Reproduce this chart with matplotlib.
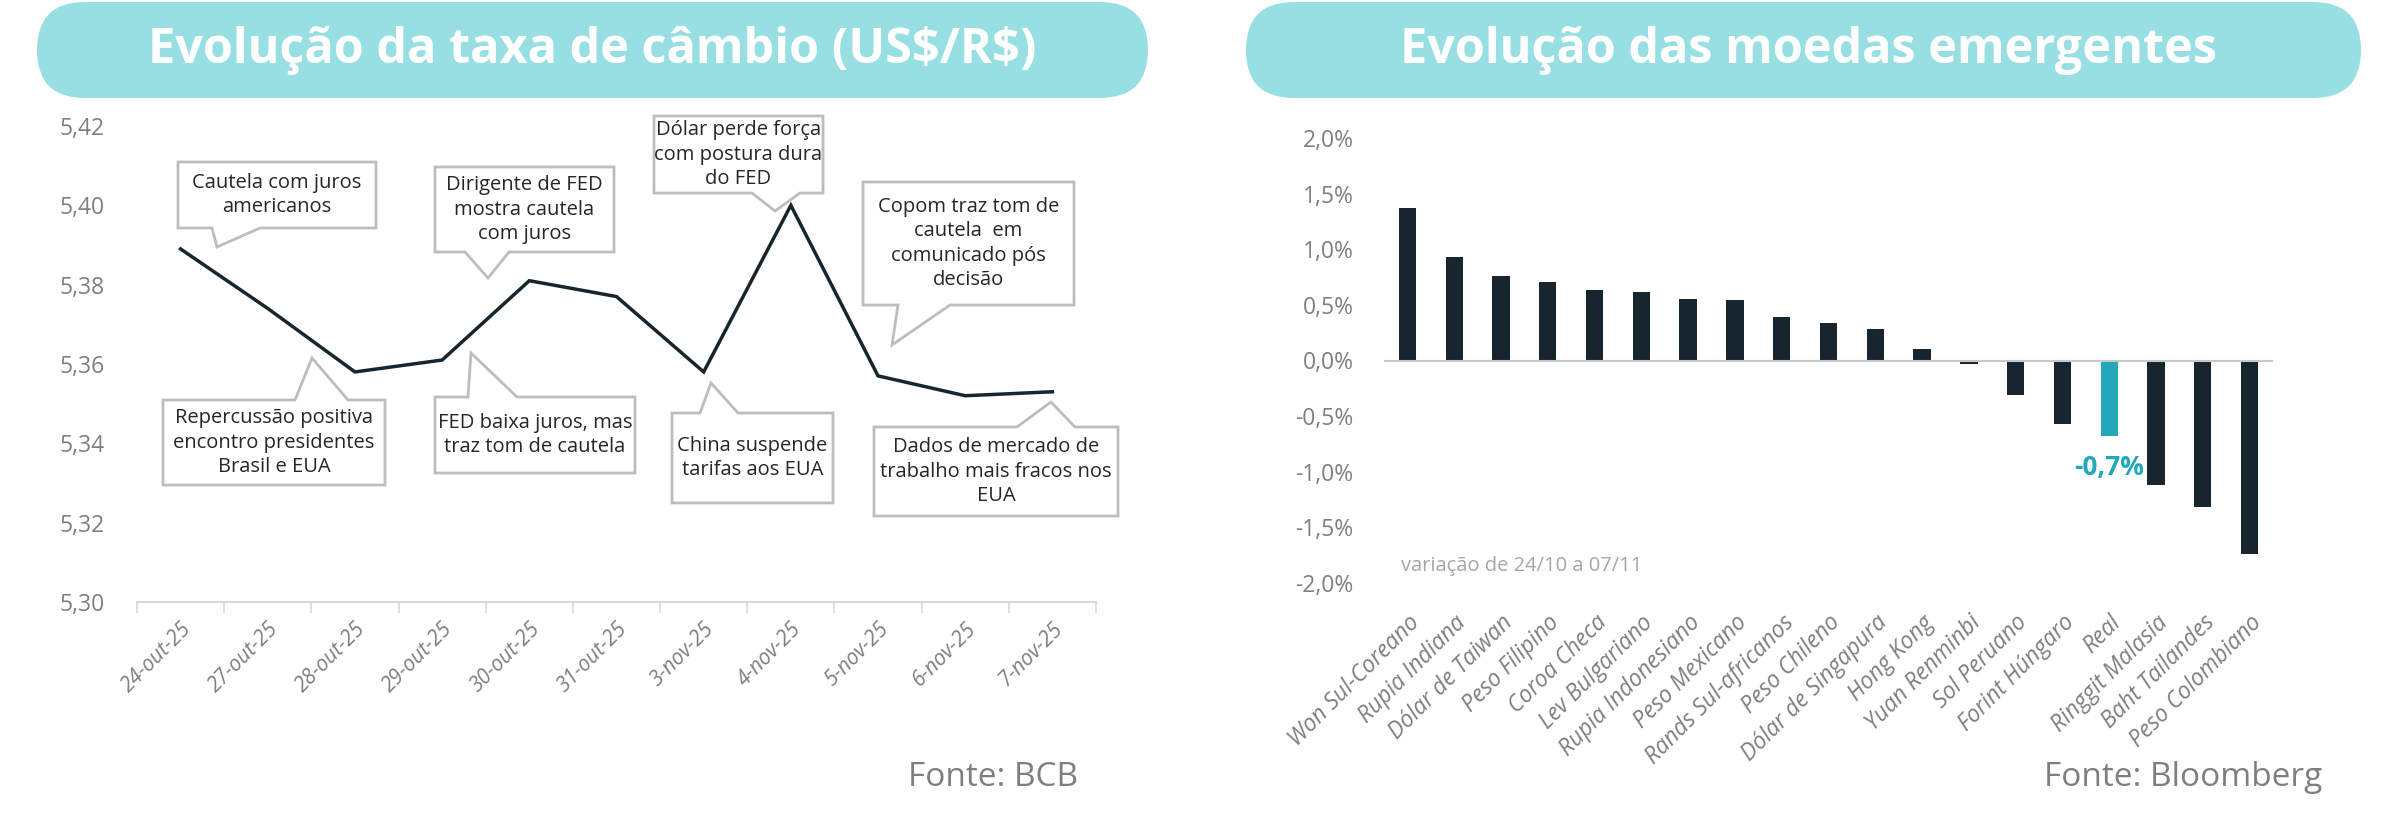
import matplotlib
matplotlib.use("Agg")
import matplotlib.pyplot as plt
from matplotlib.patches import Polygon, FancyBboxPatch
from matplotlib.ticker import FixedLocator

plt.rcParams['font.family'] = ['Open Sans', 'DejaVu Sans']

# ---------------- data ----------------
dates = ['24-out-25', '27-out-25', '28-out-25', '29-out-25', '30-out-25', '31-out-25',
         '3-nov-25', '4-nov-25', '5-nov-25', '6-nov-25', '7-nov-25']
usdbrl = [5.389, 5.374, 5.358, 5.361, 5.381, 5.377, 5.358, 5.400, 5.357, 5.352, 5.353]
fx_ticks = [5.30, 5.32, 5.34, 5.36, 5.38, 5.40, 5.42]

currencies = ['Won Sul-Coreano', 'Rupia Indiana', 'Dólar de Taiwan', 'Peso Filipino',
              'Coroa Checa', 'Lev Bulgariano', 'Rupia Indonesiano', 'Peso Mexicano',
              'Rands Sul-africanos', 'Peso Chileno', 'Dólar de Singapura', 'Hong Kong',
              'Yuan Renminbi', 'Sol Peruano', 'Forint Húngaro', 'Real', 'Ringgit Malasia',
              'Baht Tailandes', 'Peso Colombiano']
variation = [1.37, 0.93, 0.76, 0.71, 0.63, 0.62, 0.555, 0.545, 0.39, 0.335, 0.28, 0.105,
             -0.035, -0.31, -0.575, -0.68, -1.115, -1.315, -1.735]
pct_ticks = [-2.0, -1.5, -1.0, -0.5, 0.0, 0.5, 1.0, 1.5, 2.0]
highlight = 'Real'
highlight_label = '-0,7%'

title_left = 'Evolução da taxa de câmbio (US$/R$)'
title_right = 'Evolução das moedas emergentes'
source_left = 'Fonte: BCB'
source_right = 'Fonte: Bloomberg'
period_note = 'variação de 24/10 a 07/11'

notes = ['Cautela com juros\namericanos',
         'Dirigente de FED\nmostra cautela\ncom juros',
         'Dólar perde força\ncom postura dura\ndo FED',
         'Copom traz tom de\ncautela  em\ncomunicado pós\ndecisão',
         'Repercussão positiva\nencontro presidentes\nBrasil e EUA',
         'FED baixa juros, mas\ntraz tom de cautela',
         'China suspende\ntarifas aos EUA',
         'Dados de mercado de\ntrabalho mais fracos nos\nEUA']

# ---------------- style ----------------
W, H = 2392, 833
PILL = '#97dfe3'
DARK = '#17252f'
TEAL = '#22a8b8'
GRAY = '#7f7f7f'
LGRAY = '#d9d9d9'
BOX = '#bdbdbd'

fig = plt.figure(figsize=(W / 100, H / 100), dpi=100)


def px_axes(x0, y0, x1, y1):
    return fig.add_axes([x0 / W, 1 - y1 / H, (x1 - x0) / W, (y1 - y0) / H])


# ---------------- left chart ----------------
axl = px_axes(137, 126, 1096, 602)
xs = list(range(len(dates)))
axl.plot(xs, usdbrl, color=DARK, lw=2.5, solid_joinstyle='miter', zorder=3)
axl.set_xlim(-0.5, len(dates) - 0.5)
axl.set_ylim(fx_ticks[0], fx_ticks[-1])
axl.set_yticks(fx_ticks)
axl.set_yticklabels([f'{v:.2f}'.replace('.', ',') for v in fx_ticks])
axl.set_xticks(xs)
axl.set_xticklabels(dates, rotation=45, ha='right', va='top', rotation_mode='anchor',
                    style='italic', fontsize=15, color=GRAY)
axl.xaxis.set_minor_locator(FixedLocator([i - 0.5 for i in range(len(dates) + 1)]))
axl.tick_params(axis='x', which='major', length=0, pad=12)
axl.tick_params(axis='x', which='minor', length=8, width=1.2, color=LGRAY)
axl.tick_params(axis='y', length=0, labelsize=16.5, labelcolor=GRAY, pad=23)
for s in ['top', 'right', 'left']:
    axl.spines[s].set_visible(False)
axl.spines['bottom'].set_color(LGRAY)
axl.spines['bottom'].set_linewidth(1.5)

# ---------------- right chart ----------------
axr = px_axes(1384, 138, 2273, 583)
xr = list(range(len(currencies)))
colors = [TEAL if c == highlight else DARK for c in currencies]
axr.bar(xr, variation, width=0.37, color=colors, zorder=2)
axr.axhline(0, color='#c8c8c8', lw=1.5, zorder=3)
axr.set_xlim(-0.5, len(currencies) - 0.5)
axr.set_ylim(pct_ticks[0], pct_ticks[-1])
axr.set_yticks(pct_ticks)
axr.set_yticklabels([f'{v:.1f}%'.replace('.', ',') for v in pct_ticks])
axr.set_xticks(xr)
axr.set_xticklabels(currencies, rotation=45, ha='right', va='top', rotation_mode='anchor',
                    style='italic', fontsize=16.5, color=GRAY)
axr.tick_params(axis='x', length=0, pad=20)
axr.tick_params(axis='y', length=0, labelsize=16.5, labelcolor=GRAY, pad=22)
for s in axr.spines.values():
    s.set_visible(False)
hi = currencies.index(highlight)
axr.text(hi, variation[hi] - 0.28, highlight_label, color=TEAL, fontsize=19,
         fontweight='bold', ha='center', va='center')
axr.text(-0.14, -1.85, period_note, color='#a6a6a6', fontsize=14.5, ha='left', va='center')

# ---------------- overlay (pixel coordinates) ----------------
ov = fig.add_axes([0, 0, 1, 1])
ov.set_xlim(0, W)
ov.set_ylim(H, 0)
ov.axis('off')
ov.patch.set_alpha(0)

for (x0, x1, title, cx) in [(37, 1148, title_left, 592), (1246, 2361, title_right, 1808)]:
    ov.add_patch(FancyBboxPatch((x0, 2), x1 - x0, 96,
                                boxstyle='round,pad=0,rounding_size=48',
                                fc=PILL, ec='none'))
    ov.text(cx, 50, title.replace('$', r'\$'), color='white', fontsize=35,
            fontweight='bold', ha='center', va='center')

# callouts: box (x0, y0, x1, y1), side, pointer base (b0, b1), tip (tx, ty)
callouts = [
    ((178, 162, 376, 228), 'bottom', (212, 260), (217, 247)),
    ((435, 167, 614, 252), 'bottom', (465, 509), (488, 278)),
    ((654, 116, 823, 193), 'bottom', (752, 800), (775, 211)),
    ((863, 182, 1074, 305), 'bottom', (898, 950), (892, 345)),
    ((163, 400, 385, 485), 'top', (295, 348), (312, 358)),
    ((435, 397, 635, 473), 'top', (468, 517), (471, 353)),
    ((672, 413, 833, 503), 'top', (700, 738), (711, 383)),
    ((874, 427, 1118, 516), 'top', (1017, 1075), (1051, 402)),
]
for note, (box, side, base, tip) in zip(notes, callouts):
    x0, y0, x1, y1 = box
    b0, b1 = base
    if side == 'bottom':
        verts = [(x0, y0), (x1, y0), (x1, y1), (b1, y1), tip, (b0, y1), (x0, y1)]
    else:
        verts = [(x0, y0), (b0, y0), tip, (b1, y0), (x1, y0), (x1, y1), (x0, y1)]
    ov.add_patch(Polygon(verts, closed=True, fc='white', ec=BOX, lw=2.0, joinstyle='miter'))
    ov.text((x0 + x1) / 2, (y0 + y1) / 2, note, fontsize=14.5, color='#262626',
            ha='center', va='center', linespacing=1.3)

ov.text(1078, 778, source_left, color=GRAY, fontsize=24, ha='right', va='center')
ov.text(2322, 778, source_right, color=GRAY, fontsize=24, ha='right', va='center')

fig.savefig('out.png', dpi=100, facecolor='white')
